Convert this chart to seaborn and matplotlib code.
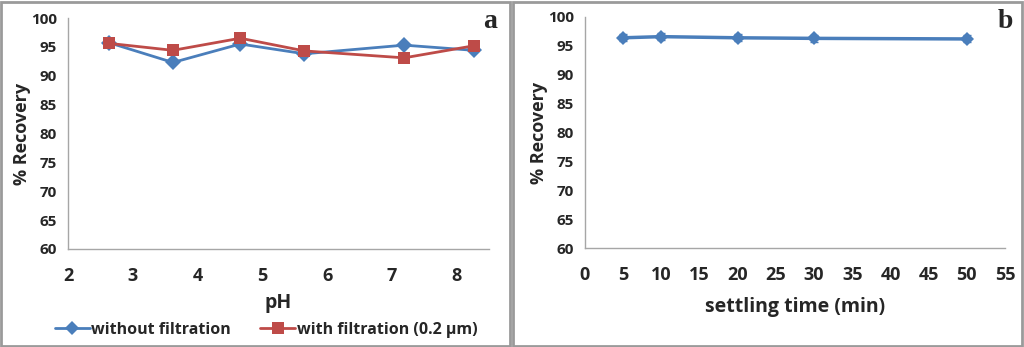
import matplotlib.pyplot as plt
import matplotlib.patches as mpatches
import pandas as pd
import seaborn as sns

# panel a data: recovery vs pH
ph_blue = [2.64, 3.62, 4.66, 5.65, 7.19, 8.27]
rec_blue = [95.7, 92.3, 95.5, 93.8, 95.3, 94.4]
ph_red = [2.64, 3.62, 4.66, 5.65, 7.19, 8.27]
rec_red = [95.6, 94.4, 96.5, 94.3, 93.1, 95.2]

# panel b data: recovery vs settling time
time_min = [5, 10, 20, 30, 50]
rec_time = [96.4, 96.6, 96.4, 96.3, 96.2]
err_time = [0.6, 0.6, 0.6, 0.6, 0.6]

BLUE = '#4A7EBB'
RED = '#BE4B48'
GRAY = '#A6A6A6'

sns.set_style('white')
plt.rcParams['font.family'] = ['Open Sans', 'DejaVu Sans']

fig = plt.figure(figsize=(10.24, 3.47), dpi=100)
W, H = 1024, 347

def px_axes(l, t, r, b):
    return fig.add_axes([l / W, 1 - b / H, (r - l) / W, (b - t) / H])

ax1 = px_axes(68, 18, 489, 249)
ax2 = px_axes(585, 17, 1005, 248)

df_a = pd.concat([
    pd.DataFrame({'pH': ph_blue, 'rec': rec_blue, 'series': 'without filtration'}),
    pd.DataFrame({'pH': ph_red, 'rec': rec_red, 'series': 'with filtration (0.2 µm)'}),
])
sns.lineplot(data=df_a, x='pH', y='rec', hue='series', style='series',
             markers={'without filtration': 'D', 'with filtration (0.2 µm)': 's'},
             dashes=False, palette=[BLUE, RED], markersize=8, linewidth=2,
             markeredgewidth=0, ax=ax1, legend=False)

df_b = pd.DataFrame({'t': time_min, 'rec': rec_time})
sns.lineplot(data=df_b, x='t', y='rec', color=BLUE, marker='D', markersize=7,
             linewidth=2.5, markeredgewidth=0, ax=ax2)
ax2.errorbar(time_min, rec_time, yerr=err_time, fmt='none', ecolor=BLUE,
             elinewidth=1.5, capsize=3)

for ax in (ax1, ax2):
    ax.set_ylim(60, 100)
    ax.set_yticks(range(60, 101, 5))
    for s in ('top', 'right'):
        ax.spines[s].set_visible(False)
    for s in ('left', 'bottom'):
        ax.spines[s].set_color(GRAY)
        ax.spines[s].set_linewidth(1)
    ax.tick_params(axis='both', direction='out', length=5, width=1, color=GRAY,
                   labelsize=11, pad=3)
    ax.tick_params(axis='x', labelsize=13, pad=8)
    for lab in ax.get_xticklabels() + ax.get_yticklabels():
        lab.set_fontweight('bold')
    ax.set_ylabel('% Recovery', fontsize=13, fontweight='bold', labelpad=0)

ax1.set_xlim(2, 8.5)
ax1.set_xticks(range(2, 9))
for lab in ax1.get_xticklabels():
    lab.set_fontweight('bold')
ax1.set_xlabel('pH', fontsize=14, fontweight='bold', labelpad=6)

ax2.set_xlim(0, 55)
ax2.set_xticks(range(0, 56, 5))
for lab in ax2.get_xticklabels():
    lab.set_fontweight('bold')
ax2.set_xlabel('settling time (min)', fontsize=14, fontweight='bold', labelpad=9)

# legend below panel a
handles = [
    plt.Line2D([], [], color=BLUE, marker='D', markersize=7, linewidth=2, markeredgewidth=0),
    plt.Line2D([], [], color=RED, marker='s', markersize=8, linewidth=2, markeredgewidth=0),
]
fig.legend(handles, ['without filtration', 'with filtration (0.2 µm)'],
           loc='center', bbox_to_anchor=(266 / W, 1 - 330 / H), ncol=2,
           frameon=False, handlelength=2.2, handletextpad=0.1, columnspacing=1.8,
           prop={'size': 11.5, 'weight': 'bold'})

# panel letters
fig.text(497 / W, 1 - 22 / H, 'a', ha='right', va='center', fontsize=20,
         fontweight='bold', family='Liberation Serif')
fig.text(1013 / W, 1 - 22 / H, 'b', ha='right', va='center', fontsize=20,
         fontweight='bold', family='Liberation Serif')

# panel borders
for (l, r) in ((1, 510), (513, 1022)):
    fig.add_artist(mpatches.Rectangle((l / W, 1 / H), (r - l) / W, (H - 3) / H,
                                      transform=fig.transFigure, fill=False,
                                      edgecolor='#9A9A9A', linewidth=2))

fig.savefig('out.png', dpi=100)
